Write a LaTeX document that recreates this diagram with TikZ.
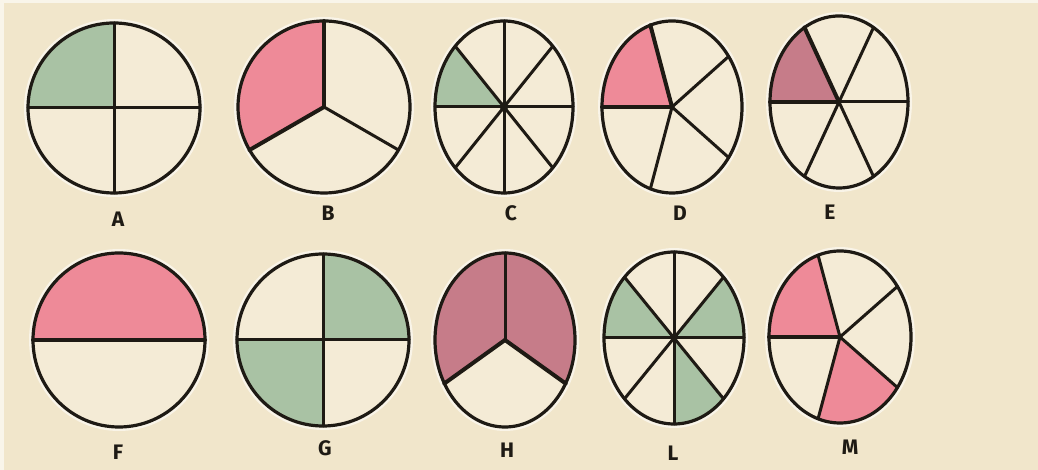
\documentclass[tikz,border=0pt]{standalone}
\usepackage{fontspec}
\setmainfont{Fira Sans}
\definecolor{paper}{HTML}{F1E6CB}
\definecolor{inner}{HTML}{F4EBD6}
\definecolor{sage}{HTML}{A9C2A4}
\definecolor{rose}{HTML}{EE8A98}
\definecolor{mauve}{HTML}{C67C89}
\definecolor{ink}{HTML}{1E1A14}
\tikzset{
  rim/.style={draw=ink, line width=3.2pt},
  spoke/.style={draw=ink, line width=3pt, line cap=round},
  heavy/.style={draw=ink, line width=4pt, line cap=round},
  lbl/.style={font=\fontsize{21}{24}\selectfont\bfseries, text=ink, inner sep=0pt},
  halo/.style={draw=white!55!paper, line width=8pt},
}
\newcommand\sector[3]{\fill[#1] (0,0) -- (#2:1pt) arc[start angle=#2, end angle=#3, radius=1pt] -- cycle;}
\newcommand\spokes[2][spoke]{\foreach \a in {#2}{\draw[#1] (0,0) -- (\a:1pt);}}
\newcommand\wheel[5]{%
  \begin{scope}[shift={(#1,470-#2)}, xscale=#3, yscale=#4]
    \draw[halo] (0,0) circle[radius=1pt];
    \fill[inner] (0,0) circle[radius=1pt];
    #5
    \draw[rim] (0,0) circle[radius=1pt];
  \end{scope}}
\begin{document}
\begin{tikzpicture}[x=1pt, y=1pt]
\useasboundingbox (0,0) rectangle (1038,470);
\fill[paper] (0,0) rectangle (1038,470);
\fill[white!60!paper] (0,0) rectangle (4,470);
\fill[white!60!paper] (0,467) rectangle (1038,470);

% A
\wheel{114}{108}{86}{85}{\sector{sage}{90}{180}\spokes{0,90,180,270}}
% B
\wheel{324}{107}{86}{86}{\sector{rose}{90}{210}\spokes{330}\spokes[heavy]{90,210}}
% C
\wheel{504}{107}{69}{86}{\sector{sage}{135}{180}\spokes{0,45,...,315}\fill[ink] (0,0) circle[radius=0.06pt];}
% D
\wheel{672}{107}{70}{86}{\sector{rose}{108}{180}\spokes{36,-36,-108}\spokes[heavy]{108,180}}
% E
\wheel{839}{102}{69}{86}{\sector{mauve}{120}{180}\spokes{0,60,240,300}\spokes[heavy]{120,180}}
% F
\wheel{119}{340}{86}{87}{\sector{rose}{0}{180}\spokes[heavy]{0,180}}
% G
\wheel{323}{340}{86}{86}{\sector{sage}{0}{90}\sector{sage}{180}{270}\spokes{0,90,180,270}}
% H
\wheel{505}{340}{70}{87}{\sector{mauve}{90}{210}\sector{mauve}{-30}{90}\spokes{90}\spokes[heavy]{210,330}}
% L
\wheel{674}{338}{70}{86}{\sector{sage}{0}{45}\sector{sage}{135}{180}\sector{sage}{270}{315}\spokes{0,45,...,315}\fill[ink] (0,0) circle[radius=0.05pt];}
% M
\wheel{840}{337}{71}{86}{\sector{rose}{108}{180}\sector{rose}{-108}{-36}\spokes{36,108,-36,-108}\spokes[heavy]{180}}

\node[lbl] (labA) at (118,470-219) {A};
\node[lbl] (labB) at (328,470-213) {B};
\node[lbl] (labC) at (511,470-213) {C};
\node[lbl] (labD) at (680,470-213) {D};
\node[lbl] (labE) at (830,470-212) {E};
\node[lbl] (labF) at (118,470-452) {F};
\node[lbl] (labG) at (325,470-448) {G};
\node[lbl] (labH) at (507,470-450) {H};
\node[lbl] (labL) at (673,470-453) {L};
\node[lbl] (labM) at (850,470-447) {M};
\end{tikzpicture}
\end{document}
